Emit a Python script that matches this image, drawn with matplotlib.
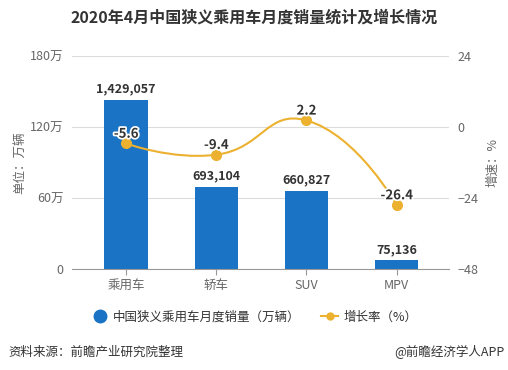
import numpy as np
import matplotlib
matplotlib.use("Agg")
import matplotlib.pyplot as plt
import matplotlib.patheffects as pe
from matplotlib.path import Path
from matplotlib.patches import PathPatch
from matplotlib.lines import Line2D

plt.rcParams['font.family'] = ['Noto Sans CJK SC', 'DejaVu Sans']

# data
categories = ['乘用车', '轿车', 'SUV', 'MPV']
sales = [1429057, 693104, 660827, 75136]   # 辆
growth = [-5.6, -9.4, 2.2, -26.4]          # %
left_ticks = [0, 60, 120, 180]
left_labels = ['0', '60万', '120万', '180万']
right_ticks = [-48, -24, 0, 24]

BAR = '#1a73c4'
GOLD = '#ebb12f'
GRID = '#dcdcdc'
TXT = '#666666'


def smooth_path(xs, ys, sx, sy, smooth=0.5):
    """echarts-like bezier smoothing, done in a pixel-like space"""
    px = np.array(xs, float) * sx
    py = np.array(ys, float) * sy
    n = len(px)
    verts = [(px[0], py[0])]
    codes = [Path.MOVETO]
    cps = []
    for i in range(n):
        if i == 0 or i == n - 1:
            cps.append(((px[i], py[i]), (px[i], py[i])))
            continue
        vx, vy = px[i + 1] - px[i - 1], py[i + 1] - py[i - 1]
        d0 = np.hypot(px[i] - px[i - 1], py[i] - py[i - 1])
        d1 = np.hypot(px[i + 1] - px[i], py[i + 1] - py[i])
        r = d1 / (d0 + d1)
        c_in = (px[i] - vx * smooth * (1 - r), py[i] - vy * smooth * (1 - r))
        c_out = (px[i] + vx * smooth * r, py[i] + vy * smooth * r)
        cps.append((c_in, c_out))
    for i in range(1, n):
        verts += [cps[i - 1][1], cps[i][0], (px[i], py[i])]
        codes += [Path.CURVE4] * 3
    verts = [(a / sx, b / sy) for a, b in verts]
    return Path(verts, codes)


fig = plt.figure(figsize=(5.08, 3.70), dpi=100)
ax = fig.add_axes([0.1417, 0.273, 0.742, 0.576])
ax2 = ax.twinx()

x = np.arange(len(categories))
vals = np.array(sales) / 10000.0
ax.bar(x, vals, width=0.48, color=BAR, zorder=2)
for xi, v, s in zip(x, vals, sales):
    ax.annotate(f'{s:,}', (xi, v), xytext=(0, 3), textcoords='offset points',
                ha='center', va='bottom', fontsize=9, fontweight='bold',
                color='#333333', zorder=5)

ax.set_xlim(-0.6, 3.58)
ax.set_ylim(0, 180)
ax.set_yticks(left_ticks)
ax.set_yticklabels(left_labels)
ax.set_xticks(x)
ax.set_xticklabels(categories)
ax.yaxis.grid(True, color=GRID, lw=0.8, zorder=0)
ax.set_axisbelow(True)
for sp in ['top', 'right', 'left']:
    ax.spines[sp].set_visible(False)
ax.spines['bottom'].set_color('#999999')
ax.tick_params(axis='y', length=0, colors=TXT, labelsize=9, pad=6)
ax.tick_params(axis='x', length=4, color='#999999', colors=TXT, labelsize=9, pad=3)
ax.set_ylabel('单位：万辆', color=TXT, fontsize=9, labelpad=3)

ax2.set_ylim(-48, 24)
ax2.set_yticks(right_ticks)
for sp in ['top', 'right', 'left', 'bottom']:
    ax2.spines[sp].set_visible(False)
ax2.tick_params(axis='y', length=0, colors=TXT, labelsize=9, pad=6)
ax2.set_ylabel('增速：%', color=TXT, fontsize=9, labelpad=6)
ax2.yaxis.label.set_rotation(90)

# smooth growth line
sx = 90.0
sy = 211.5 / 72.0
path = smooth_path(x, growth, sx, sy)
ax2.add_patch(PathPatch(path, fill=False, edgecolor=GOLD, lw=1.5, zorder=3))
ax2.plot(x, growth, 'o', color=GOLD, markersize=7, zorder=4)
for xi, g in zip(x, growth):
    ax2.annotate(f'{g}', (xi, g), xytext=(0, 2), textcoords='offset points',
                 ha='center', va='bottom', fontsize=9.5, fontweight='bold',
                 color='#333333', zorder=6,
                 path_effects=[pe.withStroke(linewidth=2.5, foreground='white')])

# title
fig.text(0.5, 0.953, '2020年4月中国狭义乘用车月度销量统计及增长情况', ha='center',
         va='center', fontsize=11.5, fontweight='bold', color='#333333')

# legend
handles = [Line2D([], [], marker='o', color=BAR, ls='none', markersize=9),
           Line2D([], [], marker='o', color=GOLD, lw=1.5, markersize=5)]
fig.legend(handles, ['中国狭义乘用车月度销量（万辆）', '增长率（%）'],
           loc='center', bbox_to_anchor=(0.5, 0.143), ncol=2, frameon=False,
           fontsize=9, labelcolor='#333333', handlelength=1.4,
           handletextpad=0.4, columnspacing=1.6)

# footer
fig.text(0.016, 0.048, '资料来源：前瞻产业研究院整理', ha='left', va='center',
         fontsize=9, color='#333333')
fig.text(0.994, 0.048, '@前瞻经济学人APP', ha='right', va='center',
         fontsize=9, color='#333333')

fig.savefig('out.png', dpi=100, facecolor='white')
